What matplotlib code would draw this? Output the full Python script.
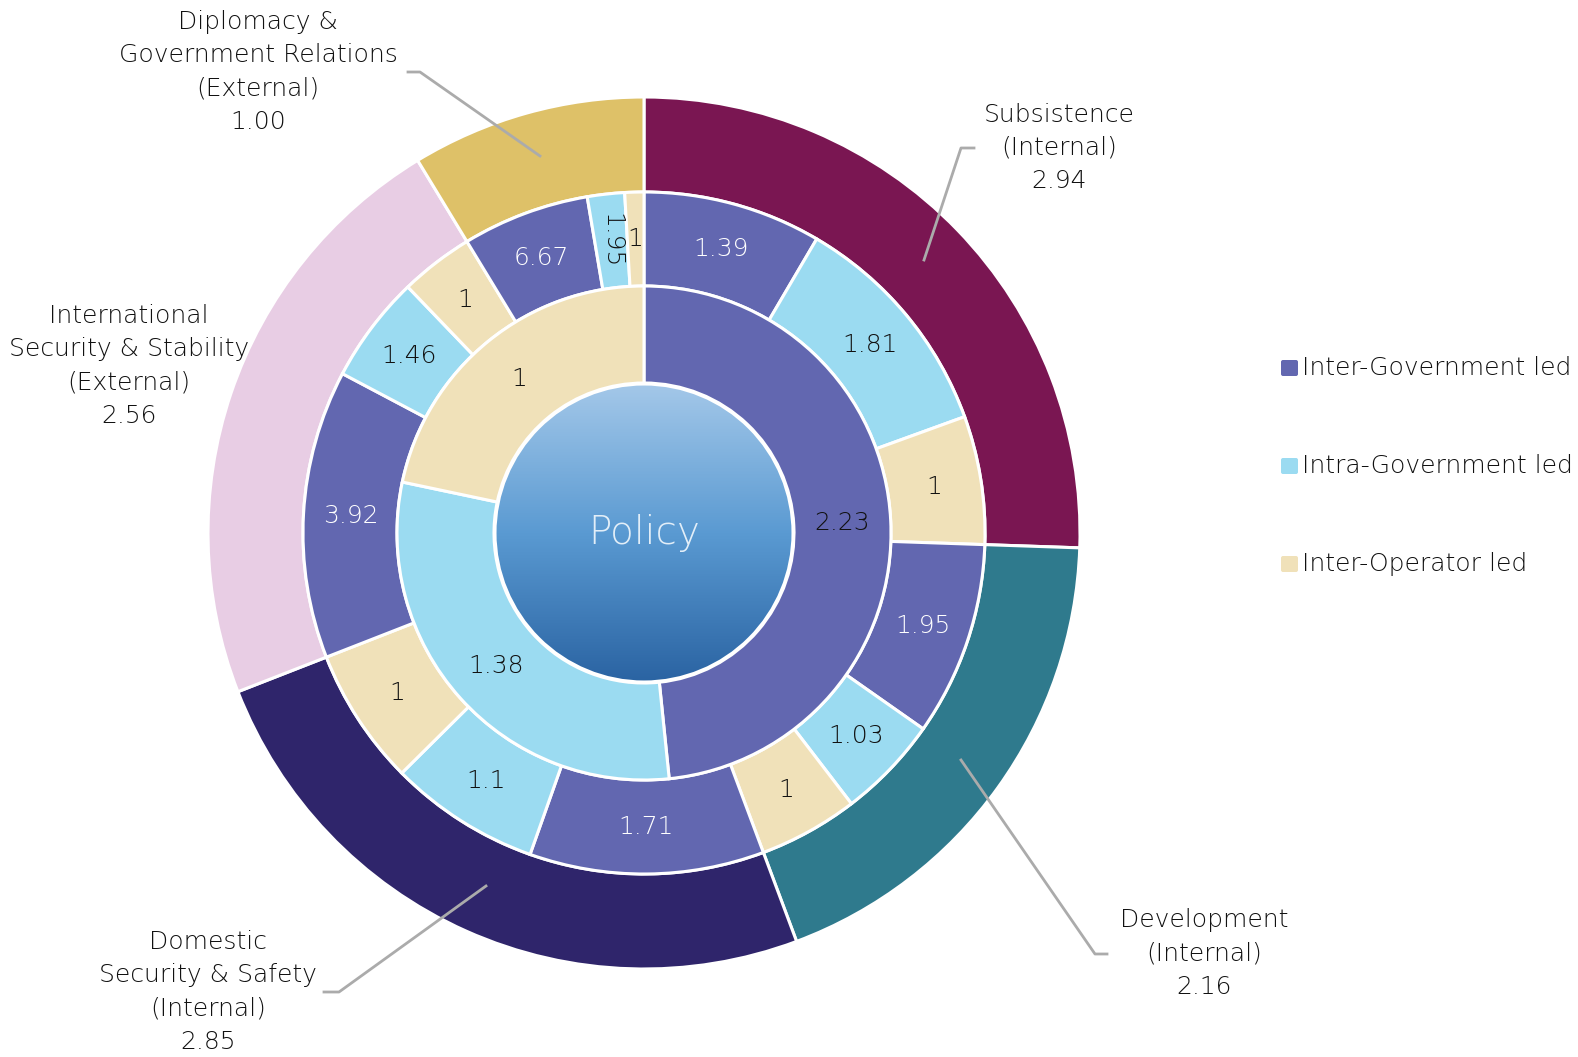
import numpy as np
import matplotlib
matplotlib.use("Agg")
import matplotlib.pyplot as plt
from matplotlib.patches import Circle, FancyBboxPatch
from matplotlib.colors import LinearSegmentedColormap

plt.rcParams["font.family"] = ["DejaVu Sans"]

# Outer ring: policy areas (clockwise from 12 o'clock)
areas = ["Subsistence\n(Internal)", "Development\n(Internal)",
         "Domestic\nSecurity & Safety\n(Internal)",
         "International\nSecurity & Stability\n(External)",
         "Diplomacy &\nGovernment Relations\n(External)"]
area_values = [2.94, 2.16, 2.85, 2.56, 1.00]
area_colors = ["#7a1652", "#2f7a8d", "#2f256b", "#e8cde4", "#dec168"]

# Middle ring: lead type split for each area (Inter-Gov, Intra-Gov, Inter-Operator)
sub_values = [
    [1.39, 1.81, 1],
    [1.95, 1.03, 1],
    [1.71, 1.1, 1],
    [3.92, 1.46, 1],
    [6.67, 1.95, 1],
]

# Inner ring: overall by lead type
lead_types = ["Inter-Government led", "Intra-Government led", "Inter-Operator led"]
lead_values = [2.23, 1.38, 1]
lead_colors = ["#6267b0", "#9bdbf1", "#f0e1b9"]

center_label = "Policy"

# geometry in pixel units
W, H = 1578, 1057
cx, cy = 644, H - 533
r_out, r_mid, r_in, r_core = 436, 341, 247, 150
lw = 2.2
txt_col = "#111111"
fw = 200  # thin weight
fs = 18

fig = plt.figure(figsize=(W / 100, H / 100), dpi=100)
ax = fig.add_axes([0, 0, 1, 1])

wp = dict(edgecolor="white", linewidth=lw)

# outer ring
ax.pie(area_values, radius=r_out, center=(cx, cy), startangle=90, counterclock=False,
       colors=area_colors, wedgeprops=dict(width=r_out - r_mid, **wp), frame=True)

# middle ring: each area split proportionally
mid_vals, mid_cols, mid_txt = [], [], []
for a, subs in zip(area_values, sub_values):
    tot = sum(subs)
    for k, v in enumerate(subs):
        mid_vals.append(a * v / tot)
        mid_cols.append(lead_colors[k])
        mid_txt.append(v)
mid_wedges, _ = ax.pie(mid_vals, radius=r_mid, center=(cx, cy), startangle=90, counterclock=False,
                       colors=mid_cols, wedgeprops=dict(width=r_mid - r_in, **wp), frame=True)

# inner ring
in_wedges, _ = ax.pie(lead_values, radius=r_in, center=(cx, cy), startangle=90, counterclock=False,
                      colors=lead_colors, wedgeprops=dict(width=r_in - r_core, **wp), frame=True)


def mid_point(w, r):
    ang = np.deg2rad((w.theta1 + w.theta2) / 2)
    return cx + r * np.cos(ang), cy + r * np.sin(ang)


n_sub = len(sub_values[0])
for i, (w, v) in enumerate(zip(mid_wedges, mid_txt)):
    k = i % n_sub
    x, y = mid_point(w, (r_mid + r_in) / 2)
    rot = 0
    # narrow slice: turn the label sideways
    if abs(w.theta2 - w.theta1) < 8 and v != 1:
        rot = -90
    ax.text(x, y, "{:g}".format(v), ha="center", va="center", fontsize=fs,
            color="white" if k == 0 else txt_col, fontweight=fw, rotation=rot)

for w, v in zip(in_wedges, lead_values):
    x, y = mid_point(w, (r_in + r_core) / 2)
    ax.text(x, y, "{:g}".format(v), ha="center", va="center", fontsize=fs,
            color=txt_col, fontweight=fw)

# center gradient circle
grad = np.linspace(0, 1, 256).reshape(-1, 1)
cmap = LinearSegmentedColormap.from_list("pol", ["#a4c8e9", "#5a9ad2", "#2a63a2"])
im = ax.imshow(grad, cmap=cmap, extent=(cx - r_core, cx + r_core, cy - r_core, cy + r_core),
               origin="upper", zorder=3, aspect="auto")
clip = Circle((cx, cy), r_core - 1, transform=ax.transData)
im.set_clip_path(clip)
ax.add_patch(Circle((cx, cy), r_core - 1, facecolor="none", edgecolor="white", linewidth=lw, zorder=4))
ax.text(cx, cy, center_label, ha="center", va="center", fontsize=28, color="#e2eef8",
        fontweight=fw, zorder=5)

# outer labels with leader lines
label_pos = [(1059, 148), (1204, 954), (208, 992), (129, 366), (258, 72)]
leaders = [
    [(974, 148), (961, 148), (924, 260)],
    [(1107, 954), (1095, 954), (961, 760)],
    [(324, 992), (339, 992), (486, 886)],
    None,
    [(408, 72), (420, 72), (540, 156)],
]
for name, val, (tx, ty), ld in zip(areas, area_values, label_pos, leaders):
    ax.text(tx, H - ty, "{}\n{:.2f}".format(name, val), ha="center", va="center",
            fontsize=fs, color=txt_col, fontweight=fw, linespacing=1.5)
    if ld is not None:
        xs = [p[0] for p in ld]
        ys = [H - p[1] for p in ld]
        ax.plot(xs, ys, color="#ababab", linewidth=2)

# legend
leg_y = [368, 466, 564]
for name, col, ly in zip(lead_types, lead_colors, leg_y):
    ax.add_patch(FancyBboxPatch((1281, H - ly - 8), 17, 16, boxstyle="round,pad=0,rounding_size=2",
                                facecolor=col, edgecolor="none"))
    ax.text(1302, H - ly, name, ha="left", va="center", fontsize=fs, color=txt_col,
            fontweight=fw)

ax.set_xlim(0, W)
ax.set_ylim(0, H)
ax.set_aspect("equal")
ax.axis("off")

fig.savefig("out.png", dpi=100, facecolor="white")
